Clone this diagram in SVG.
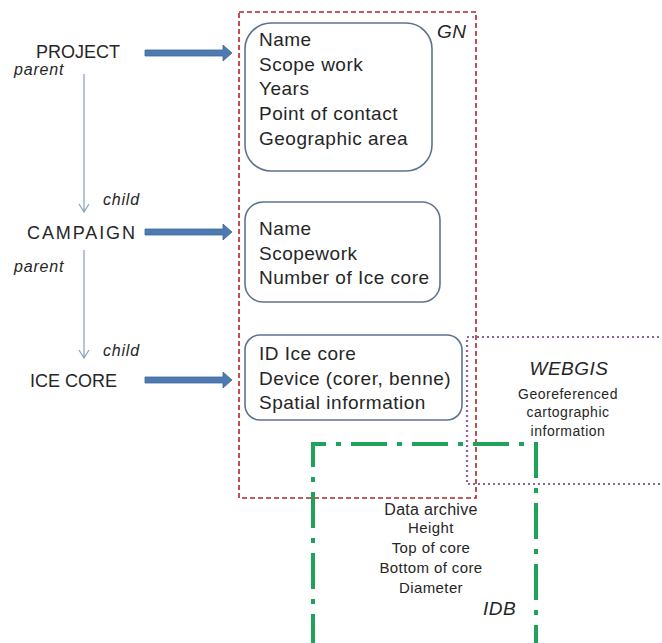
<svg xmlns="http://www.w3.org/2000/svg" width="662" height="643" viewBox="0 0 662 643">
<style>
.t{font-family:"Liberation Sans",Arial,sans-serif;fill:#262626}
.lbl{font-size:18px}
.att{font-size:19px;letter-spacing:0.5px}
.it{font-style:italic}
.small{font-size:14px;letter-spacing:0.5px}
.med{font-size:15px;letter-spacing:0.4px}
.arc{font-size:16px;letter-spacing:0.3px}
.rel{font-size:16px;letter-spacing:0.8px;font-style:italic}
.box{fill:#fff;stroke:#5f7391;stroke-width:1.6}
.fat{fill:#4d7ab0;stroke:#40689a;stroke-width:0.8}
.thin{stroke:#8ea6c4;stroke-width:1.3;fill:none}
</style>
<rect width="662" height="643" fill="#fff"/>
<g id="gn">
<rect x="239" y="12" width="237" height="486" fill="none" stroke="#b0262a" stroke-width="1.6" stroke-dasharray="5,3"/>
<text class="t att it" x="437" y="38">GN</text>
</g>
<g id="webgis">
<path d="M664,337 H467 V484 H664" fill="none" stroke="#8a64a0" stroke-width="2.2" stroke-dasharray="2,3"/>
<text class="t att it" x="569" y="375" text-anchor="middle">WEBGIS</text>
<text class="t small" x="568" y="399" text-anchor="middle">Georeferenced</text>
<text class="t small" x="568" y="417" text-anchor="middle">cartographic</text>
<text class="t small" x="568" y="436" text-anchor="middle">information</text>
</g>
<g id="idb">
<path d="M313,650 V444 H536 V650" fill="none" stroke="#1fa35a" stroke-width="4" stroke-dasharray="36,10,5,10"/>
<text class="t arc" x="431" y="515" text-anchor="middle">Data archive</text>
<text class="t med" x="431" y="533" text-anchor="middle">Height</text>
<text class="t med" x="431" y="553" text-anchor="middle">Top of core</text>
<text class="t med" x="431" y="573" text-anchor="middle">Bottom of core</text>
<text class="t med" x="431" y="593" text-anchor="middle">Diameter</text>
<text class="t att it" x="483" y="615">IDB</text>
</g>
<g id="project">
<text class="t lbl" x="36" y="58">PROJECT</text>
</g>
<g id="campaign">
<text class="t lbl" x="27" y="239" textLength="108">CAMPAIGN</text>
</g>
<g id="icecore">
<text class="t lbl" x="30" y="387">ICE CORE</text>
</g>
<g id="project-attrs">
<rect class="box" x="245" y="23" width="187" height="148" rx="26"/>
<text class="t att" x="259" y="46">Name</text>
<text class="t att" x="259" y="71">Scope work</text>
<text class="t att" x="259" y="95">Years</text>
<text class="t att" x="259" y="120">Point of contact</text>
<text class="t att" x="259" y="145">Geographic area</text>
</g>
<g id="campaign-attrs">
<rect class="box" x="245" y="202" width="195" height="100" rx="18"/>
<text class="t att" x="259" y="235">Name</text>
<text class="t att" x="259" y="260">Scopework</text>
<text class="t att" x="259" y="284">Number of Ice core</text>
</g>
<g id="icecore-attrs">
<rect class="box" x="245" y="335" width="217" height="85" rx="15"/>
<text class="t att" x="259" y="360">ID Ice core</text>
<text class="t att" x="259" y="385">Device (corer, benne)</text>
<text class="t att" x="259" y="409">Spatial information</text>
</g>
<g id="connectors">
<path class="fat" d="M145,50 H223 V45 L232,53 L223,61 V56 H145 Z"/>
<path class="fat" d="M145,229 H223 V224 L232,232 L223,240 V235 H145 Z"/>
<path class="fat" d="M145,377 H223 V372 L232,380 L223,388 V383 H145 Z"/>
<path class="thin" d="M84,74 V212 M79,204 L84,212 L89,204"/>
<path class="thin" d="M84,250 V358 M79,350 L84,358 L89,350"/>
<text class="t rel" x="14" y="75">parent</text>
<text class="t rel" x="103" y="205">child</text>
<text class="t rel" x="14" y="272">parent</text>
<text class="t rel" x="103" y="356">child</text>
</g>
</svg>
